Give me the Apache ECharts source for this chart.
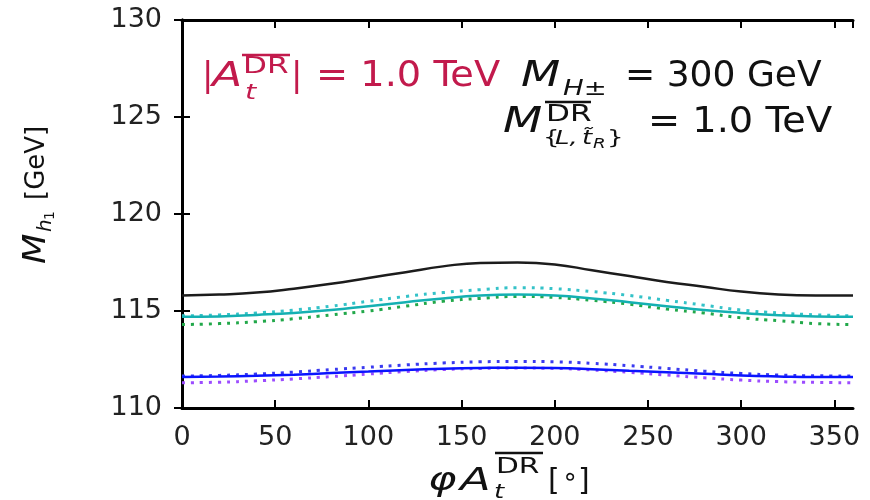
<!DOCTYPE html>
<html>
<head>
<meta charset="utf-8">
<script src="https://cdn.jsdelivr.net/npm/echarts@6/dist/echarts.min.js"></script>
<style>
  html, body { margin: 0; padding: 0; background: #fff; }
  #chart { width: 870px; height: 500px; }
</style>
</head>
<body>
<div id="chart"></div>
<script>
// phase of A_t in degrees
var phi = [0, 20, 40, 60, 80, 100, 120, 140, 160, 180, 200, 220, 240, 260, 280, 300, 320, 340, 360];

var blackSolid = [115.8, 115.85, 115.95, 116.15, 116.4, 116.7, 117.0, 117.3, 117.48, 117.5, 117.4, 117.1, 116.8, 116.5, 116.25, 116.0, 115.85, 115.8, 115.8];
var cyanSolid = [114.7, 114.72, 114.8, 114.9, 115.05, 115.25, 115.45, 115.65, 115.8, 115.85, 115.8, 115.65, 115.45, 115.25, 115.05, 114.9, 114.78, 114.72, 114.7];
var cyanDots = [114.75, 114.8, 114.9, 115.05, 115.25, 115.5, 115.75, 115.95, 116.1, 116.2, 116.15, 116.0, 115.8, 115.55, 115.3, 115.05, 114.9, 114.8, 114.75];
var greenDots = [114.3, 114.35, 114.45, 114.6, 114.8, 115.0, 115.25, 115.5, 115.65, 115.75, 115.7, 115.55, 115.35, 115.1, 114.9, 114.65, 114.5, 114.35, 114.3];
var blueSolid = [111.6, 111.62, 111.66, 111.72, 111.8, 111.88, 111.96, 112.02, 112.06, 112.08, 112.06, 112.0, 111.92, 111.84, 111.76, 111.68, 111.63, 111.6, 111.6];
var blueDots = [111.65, 111.68, 111.75, 111.85, 111.98, 112.1, 112.22, 112.32, 112.38, 112.4, 112.38, 112.3, 112.18, 112.04, 111.9, 111.78, 111.7, 111.66, 111.65];
var purpleDots = [111.3, 111.33, 111.4, 111.5, 111.62, 111.75, 111.88, 111.98, 112.04, 112.06, 112.04, 111.96, 111.84, 111.7, 111.56, 111.44, 111.36, 111.32, 111.3];

var chart = echarts.init(document.getElementById('chart'));
var font = '"DejaVu Sans", sans-serif';

function pairs(ys) {
  return phi.map(function (x, i) { return [x, ys[i]]; });
}

function line(name, ys, color, dotted) {
  return {
    name: name,
    type: 'line',
    data: pairs(ys),
    smooth: true,
    symbol: 'none',
    z: dotted ? 3 : 4,
    lineStyle: dotted
      ? { color: color, width: 3, type: [3, 6] }
      : { color: color, width: 2.5 }
  };
}

// text piece, sx stretches it sideways (the original font is wide)
function txt(x, y, s, f, sx, color) {
  return {
    type: 'text', x: x, y: y, scaleX: sx || 1,
    style: { text: s, font: f, fill: color || '#111', textVerticalAlign: 'middle' }
  };
}

function bar(x1, x2, y, color) {
  return { type: 'line', shape: { x1: x1, y1: y, x2: x2, y2: y }, style: { stroke: color || '#111', lineWidth: 2.5 } };
}

var tickLabel = { color: '#222', fontSize: 27, fontFamily: font };
var tick = { inside: true, length: 8, lineStyle: { color: '#000', width: 2 } };
var frame = { show: true, lineStyle: { color: '#000', width: 3 } };
var red = '#c21a4c';

var option = {
  animation: false,
  grid: { left: 182, right: 17, top: 20, bottom: 92 },
  xAxis: [{
    type: 'value', min: 0, max: 360, interval: 50,
    axisLine: frame,
    axisTick: tick,
    axisLabel: Object.assign({ margin: 16 }, tickLabel),
    splitLine: { show: false }
  }, {
    type: 'value', min: 0, max: 360, interval: 50, position: 'top',
    axisLine: frame,
    axisTick: tick,
    axisLabel: { show: false },
    splitLine: { show: false }
  }],
  yAxis: [{
    type: 'value', min: 110, max: 130, interval: 5,
    axisLine: frame,
    axisTick: Object.assign({ show: true }, tick),
    axisLabel: Object.assign({ margin: 20 }, tickLabel),
    splitLine: { show: false }
  }, {
    type: 'value', min: 110, max: 130, interval: 5, position: 'right',
    axisLine: frame,
    axisTick: Object.assign({ show: true }, tick),
    axisLabel: { show: false },
    splitLine: { show: false }
  }],
  series: [
    line('black', blackSolid, '#1c1c1c', false),
    line('cyan dotted', cyanDots, '#34c2c8', true),
    line('green dotted', greenDots, '#22a84a', true),
    line('cyan', cyanSolid, '#14b0b2', false),
    line('blue dotted', blueDots, '#3a3af0', true),
    line('purple dotted', purpleDots, '#9c4cff', true),
    line('blue', blueSolid, '#0a14ff', false)
  ],
  graphic: [
    // y axis title
    {
      type: 'group', x: 37, y: 192, rotation: Math.PI / 2,
      children: [
        txt(-72, 0, 'M', 'italic 32px ' + font, 1.1),
        txt(-40, 9, 'h', 'italic 20px ' + font),
        txt(-28, 13, '1', '14px ' + font),
        txt(-8, 0, '[GeV]', '26px ' + font)
      ]
    },
    // x axis title
    {
      type: 'group',
      children: [
        txt(428, 482, 'φ', 'italic 32px ' + font, 1.35),
        txt(460, 482, 'A', 'italic 32px ' + font, 1.4),
        txt(494, 493, 't', 'italic 20px ' + font, 1.3),
        bar(495, 543, 453),
        txt(496, 467, 'DR', '22px ' + font, 1.35),
        txt(548, 482, '[', '30px ' + font),
        txt(562, 478, '∘', '26px ' + font),
        txt(578, 482, ']', '30px ' + font)
      ]
    },
    // |A_t^DR| = 1.0 TeV
    {
      type: 'group',
      children: [
        txt(202, 77, '|', '34px ' + font, 1, red),
        txt(212, 77, 'A', 'italic 34px ' + font, 1.3, red),
        txt(245, 93, 't', 'italic 22px ' + font, 1.3, red),
        bar(242, 290, 55, red),
        txt(243, 67, 'DR', '23px ' + font, 1.35, red),
        txt(291, 77, '|', '34px ' + font, 1, red),
        txt(316, 77, '= 1.0 TeV', '35px ' + font, 1.095, red)
      ]
    },
    // M_H± = 300 GeV
    {
      type: 'group',
      children: [
        txt(521, 77, 'M', 'italic 35px ' + font, 1.3),
        txt(563, 89, 'H±', 'italic 22px ' + font, 1.25),
        txt(625, 77, '= 300 GeV', '35px ' + font, 1.03)
      ]
    },
    // M_{L,tR}^DR = 1.0 TeV
    {
      type: 'group',
      children: [
        txt(503, 123, 'M', 'italic 35px ' + font, 1.3),
        bar(545, 591, 102),
        txt(546, 115, 'DR', '23px ' + font, 1.35),
        txt(543, 139, '{', '20px ' + font, 1.3),
        txt(555, 139, 'L,', 'italic 20px ' + font, 1.3),
        txt(582, 139, 't̃', 'italic 20px ' + font, 1.3),
        txt(593, 144, 'R', 'italic 14px ' + font, 1.3),
        txt(607, 139, '}', '20px ' + font, 1.3),
        txt(648, 123, '= 1.0 TeV', '35px ' + font, 1.095)
      ]
    }
  ]
};

chart.setOption(option);
</script>
</body>
</html>
